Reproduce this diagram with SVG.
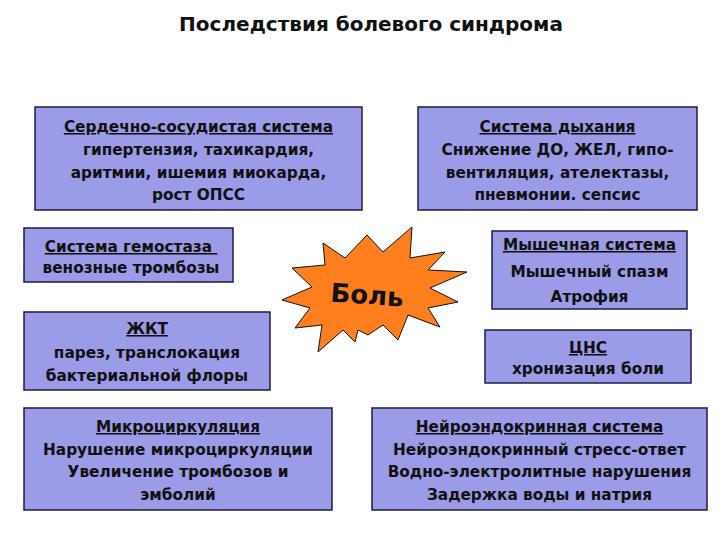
<svg xmlns="http://www.w3.org/2000/svg" width="720" height="540" viewBox="0 0 720 540">
<style>
.box{fill:#9b9be8;stroke:#1c1c4c;stroke-width:1.5}
.t{font-family:"DejaVu Sans","Liberation Sans",Arial,sans-serif;font-weight:bold;font-size:15.3px;fill:#111;text-anchor:middle}
.h{text-decoration:underline}
.title{font-family:"DejaVu Sans","Liberation Sans",Arial,sans-serif;font-weight:bold;font-size:20px;fill:#111;text-anchor:middle}
</style>
<rect width="720" height="540" fill="#ffffff"/>
<text class="title" x="371" y="31">Последствия болевого синдрома</text>
<g id="connectors"></g>
<g id="cardio">
<rect class="box" x="35" y="107" width="327" height="103"/>
<text class="t h" x="198.5" y="132">Сердечно-сосудистая система</text>
<text class="t" x="198.5" y="155">гипертензия, тахикардия,</text>
<text class="t" x="198.5" y="178">аритмии,  ишемия миокарда,</text>
<text class="t" x="198.5" y="200">рост ОПСС</text>
</g>
<g id="resp">
<rect class="box" x="418" y="107" width="279" height="103"/>
<text class="t h" x="557.5" y="132">Система дыхания</text>
<text class="t" x="557.5" y="155">Снижение ДО, ЖЕЛ, гипо-</text>
<text class="t" x="557.5" y="178">вентиляция, ателектазы,</text>
<text class="t" x="557.5" y="200">пневмонии. сепсис</text>
</g>
<g id="hemostasis">
<rect class="box" x="24" y="228" width="209" height="54"/>
<text class="t h" x="131" y="252" xml:space="preserve">Система гемостаза </text>
<text class="t" x="131" y="273">венозные тромбозы</text>
</g>
<g id="pain">
<path d="M323,243 L345,258 L367,235 L383,252 L412,227 L410,258 L445,252 L428,270 L467,272 L430,288 L458,302 L428,308 L440,327 L408,315 L398,340 L383,325 L368,335 L358,330 L355,342 L343,330 L318,352 L322,325 L295,328 L310,308 L282,300 L312,287 L292,268 L325,265 Z" fill="#ff7f1f" stroke="#111" stroke-width="1"/>
<text x="367" y="304" transform="rotate(4 367 296)" font-family="'DejaVu Sans','Liberation Sans',Arial,sans-serif" font-weight="bold" font-size="26" fill="#111" text-anchor="middle">Боль</text>
</g>
<g id="muscle">
<rect class="box" x="492" y="231" width="195" height="78"/>
<text class="t h" x="589.5" y="250">Мышечная система</text>
<text class="t" x="589.5" y="277">Мышечный спазм</text>
<text class="t" x="589.5" y="302">Атрофия</text>
</g>
<g id="gi">
<rect class="box" x="24" y="312" width="246" height="78"/>
<text class="t h" x="147" y="334">ЖКТ</text>
<text class="t" x="147" y="358">парез, транслокация</text>
<text class="t" x="147" y="381">бактериальной флоры</text>
</g>
<g id="cns">
<rect class="box" x="485" y="330" width="206" height="53"/>
<text class="t h" x="588" y="353">ЦНС</text>
<text class="t" x="588" y="374">хронизация боли</text>
</g>
<g id="micro">
<rect class="box" x="24" y="408" width="308" height="102"/>
<text class="t h" x="178" y="432">Микроциркуляция</text>
<text class="t" x="178" y="455">Нарушение микроциркуляции</text>
<text class="t" x="178" y="477">Увеличение тромбозов и</text>
<text class="t" x="178" y="500">эмболий</text>
</g>
<g id="neuro">
<rect class="box" x="372" y="408" width="335" height="102"/>
<text class="t h" x="539.5" y="432">Нейроэндокринная система</text>
<text class="t" x="539.5" y="455">Нейроэндокринный стресс-ответ</text>
<text class="t" x="539.5" y="477">Водно-электролитные нарушения</text>
<text class="t" x="539.5" y="500">Задержка воды и натрия</text>
</g>
</svg>
